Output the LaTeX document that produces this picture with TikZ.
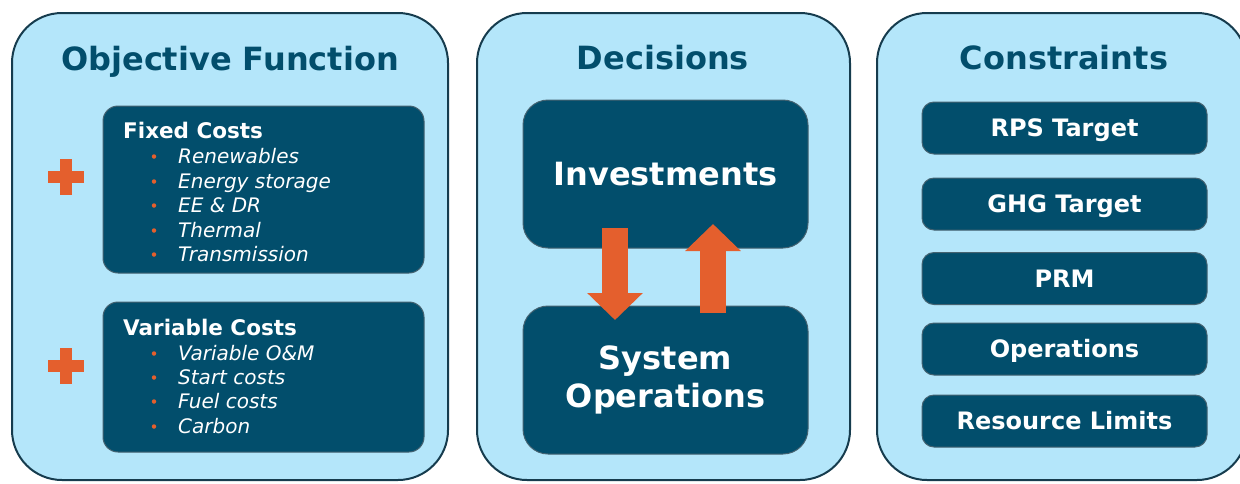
\documentclass[tikz,border=0pt]{standalone}
\usepackage{fontspec}
\setmainfont{DejaVu Sans}
\usepackage{tikz}
\usetikzlibrary{arrows.meta}
\usepackage{color}

\definecolor{panelblue}{RGB}{180,230,250}
\definecolor{navy}{RGB}{2,78,108}
\definecolor{edgeblue}{RGB}{22,60,78}
\definecolor{accent}{RGB}{228,95,45}

\tikzset{
  panel/.style={draw=edgeblue, line width=2pt, fill=panelblue, rounded corners=50pt, inner sep=0pt},
  box/.style={draw=edgeblue!80, line width=1pt, fill=navy, rounded corners=15pt, inner sep=0pt},
  heading/.style={text=navy, font=\fontsize{32}{36}\selectfont\bfseries},
  boxtitle/.style={text=white, font=\fontsize{21.5}{24}\selectfont\bfseries, anchor=base west, inner sep=0pt},
  item/.style={text=white, font=\fontsize{20}{24}\selectfont\itshape, anchor=base west, inner sep=0pt},
  dot/.style={circle, fill=accent, inner sep=0pt, minimum size=4.5pt},
  flow/.style={accent, line width=26pt, -{Triangle[length=27pt,width=54pt]}},
}

\begin{document}
\begin{tikzpicture}[x=1pt, y=-1pt]
\clip (0,0) rectangle (1240,483);
\fill[white] (0,0) rectangle (1240,483);

\node [panel, minimum width=436, minimum height=467] (objective) at (230,246.5) {};
\node [panel, minimum width=373, minimum height=467] (decisions) at (663.5,246.5) {};
\node [panel, minimum width=370, minimum height=467] (constraints) at (1062,246.5) {};

\node [heading] (objtitle) at (230,62) {Objective Function};
\node [heading] (dectitle) at (663,58) {Decisions};
\node [heading] (contitle) at (1064,58) {Constraints};

\node [box, minimum width=321, minimum height=167] (fixed) at (263.5,189.5) {};
\node [box, minimum width=321, minimum height=150] (variable) at (263.5,377) {};

\fill[accent] (48,171) rectangle (84,183);
\fill[accent] (60,159) rectangle (72,195);
\fill[accent] (48,360) rectangle (84,372);
\fill[accent] (60,348) rectangle (72,384);

\node [boxtitle] (fixedtitle) at (123,138) {Fixed Costs};
\foreach \name/\y in {Renewables/163, Energy storage/188, EE \& DR/212, Thermal/237, Transmission/261} {
  \node [dot] at (154,\y-6.5) {};
  \node [item] at (178,\y) {\name};
}

\node [boxtitle] (variabletitle) at (123,335) {Variable Costs};
\foreach \name/\y in {Variable O\&M/360, Start costs/384, Fuel costs/408, Carbon/433} {
  \node [dot] at (154,\y-6.5) {};
  \node [item] at (178,\y) {\name};
}

\begin{scope}[every node/.style={box, rounded corners=25pt, text=white, font=\fontsize{32}{38}\selectfont\bfseries, align=center, minimum width=285}]
\node [minimum height=148] (invest) at (665.5,174) {Investments};
\node [minimum height=148] (sysops) at (665.5,380) {System\\Operations};
\end{scope}

\coordinate (downtop) at (615,228);
\coordinate (downtip) at (615,320);
\coordinate (upbottom) at (713,313);
\coordinate (uptip) at (713,224);
\draw [flow] (downtop) -- (downtip);
\draw [flow] (upbottom) -- (uptip);

\begin{scope}[every node/.style={box, rounded corners=12pt, text=white, font=\fontsize{24}{28}\selectfont\bfseries, text height=17.5pt, text depth=0pt, minimum width=285, minimum height=52}]
\node (rps) at (1064.5,128) {RPS Target};
\node (ghg) at (1064.5,204) {GHG Target};
\node (prm) at (1064.5,278.5) {PRM};
\node (ops) at (1064.5,349) {Operations};
\node (limits) at (1064.5,421) {Resource Limits};
\end{scope}
\end{tikzpicture}
\end{document}
